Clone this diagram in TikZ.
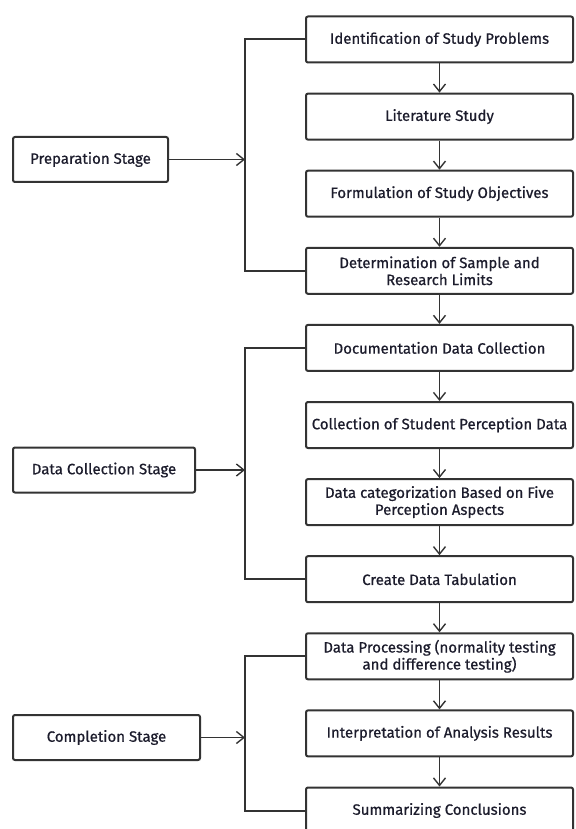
\documentclass[tikz,border=0pt]{standalone}
\usepackage{fontspec}
\setmainfont[FakeBold=0.7]{Fira Sans}
\usetikzlibrary{arrows.meta}
\definecolor{linegray}{HTML}{333333}
\definecolor{textnavy}{HTML}{1C1C2C}
\begin{document}
\begin{tikzpicture}[x=1pt,y=-1pt,font=\fontsize{15}{17}\selectfont,text=textnavy]
  \tikzstyle{stepbox}=[draw=linegray,line width=2pt,rounded corners=2pt,minimum width=267pt,minimum height=46pt,align=center,inner sep=1pt]
  \tikzstyle{stagebox}=[draw=linegray,line width=2pt,rounded corners=2pt,minimum height=45pt,align=center]
  \tikzstyle{flow}=[draw=linegray,line width=1.4pt,-{Straight Barb[length=7.5pt,width=12pt,line width=1.4pt]}]
  \tikzstyle{brace}=[draw=linegray,line width=2pt]
  \useasboundingbox (0,0) rectangle (575,829);
  % right column
  \foreach \txt [count=\i] in {Identification of Study Problems, Literature Study,
      Formulation of Study Objectives, {Determination of Sample and\\Research Limits},
      Documentation Data Collection, Collection of Student Perception Data,
      {Data categorization Based on Five\\Perception Aspects}, Create Data Tabulation,
      {Data Processing (normality testing\\and difference testing)},
      Interpretation of Analysis Results, Summarizing Conclusions}
    \node[stepbox] (r\i) at (439.5,{39.5+77.1*(\i-1)}) {\txt};
  \foreach \i [evaluate=\i as \j using int(\i+1)] in {1,...,10}
    \draw[flow] (r\i) -- (r\j);
  % stages
  \node[stagebox,minimum width=155pt] (s1) at (90.5,159.5) {Preparation Stage};
  \node[stagebox,minimum width=182pt] (s2) at (104,470) {Data Collection Stage};
  \node[stagebox,minimum width=187pt] (s3) at (106.5,737.5) {Completion Stage};
  \coordinate (k) at (245,0);
  \draw[brace] (r1.west) -- (r1.west -| k) -- (r4.west -| k) -- (r4.west);
  \draw[brace] (r5.west) -- (r5.west -| k) -- (r8.west -| k) -- (r8.west);
  \draw[brace] (r9.west) -- (r9.west -| k) -- (r11.west -| k) -- (r11.west);
  \draw[flow] (s1) -- (s1 -| k);
  \draw[flow] (s2) -- (s2 -| k);
  \draw[flow] (s3) -- (s3 -| k);
\end{tikzpicture}
\end{document}
